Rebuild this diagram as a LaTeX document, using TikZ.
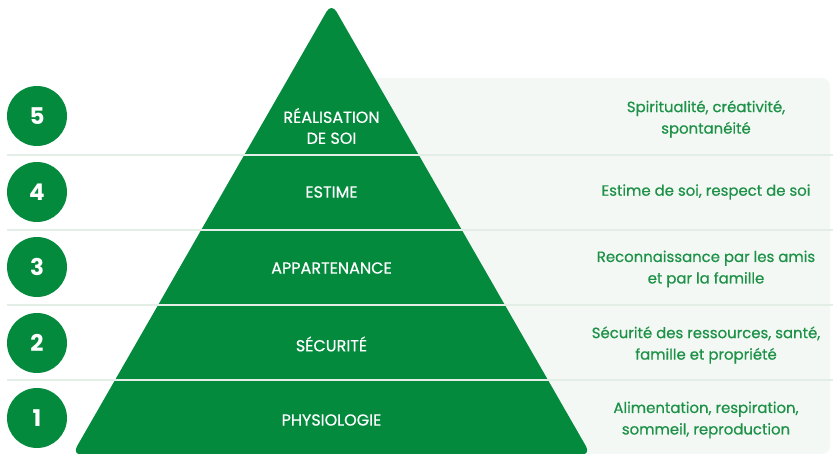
\documentclass[tikz,border=0pt]{standalone}
\usepackage{fontspec}
\setmainfont{Poppins}
\newfontfamily\medfont{Poppins}[FakeBold=0.6]
\usepackage{tikz}
\usetikzlibrary{positioning}
\definecolor{pyrgreen}{HTML}{038A3D}
\definecolor{textgreen}{HTML}{1D9247}
\definecolor{panelbg}{HTML}{F3F8F5}
\definecolor{sepline}{HTML}{E2EEE6}

\begin{document}
\begin{tikzpicture}[
    x=1pt, y=1pt,
    every node/.style={inner sep=0pt},
    levelnum/.style={circle, fill=pyrgreen, minimum size=60pt, text=white, font=\fontsize{23}{23}\selectfont\bfseries},
    levelname/.style={text=white, align=center, font=\fontsize{16}{21}\selectfont\medfont},
    need/.style={text=textgreen, align=center, font=\fontsize{14.9}{21.5}\selectfont\medfont},
    sep/.style={sepline, line width=1.5pt}
]
\useasboundingbox (0,0) rectangle (833,454);

% Fond du panneau
\fill[panelbg, rounded corners=8pt] (331,0) -- (331,376) -- (830,376) -- (830,0) [sharp corners] -- cycle;

% Pyramide
\fill[pyrgreen, rounded corners=10pt] (72,-1) -- (331.5,451) -- (591,-1) -- cycle;

% Séparateurs
\draw[sep] (7,299) -- (833,299);
\draw[sep] (7,224) -- (833,224);
\draw[sep] (7,149) -- (833,149);
\draw[sep] (7,74) -- (833,74);

% Niveaux (numéros)
\node[levelnum] (n5) at (37,338) {5};
\node[levelnum] (n4) at (37,262) {4};
\node[levelnum] (n3) at (37,187) {3};
\node[levelnum] (n2) at (37,111) {2};
\node[levelnum] (n1) at (37,36) {1};

% Noms des niveaux
\node[levelname] (real) at (331.5,328) {RÉALISATION\\DE SOI};
\node[levelname] (estime) at (331.5,262) {ESTIME};
\node[levelname] (appart) at (331.5,186) {APPARTENANCE};
\node[levelname] (secu) at (331.5,110) {SÉCURITÉ};
\node[levelname] (physio) at (331.5,34) {PHYSIOLOGIE};

% Besoins
\node[need] (b5) at (706,335) {Spiritualité, créativité,\\spontanéité};
\node[need] (b4) at (706,262) {Estime de soi, respect de soi};
\node[need] (b3) at (706,185) {Reconnaissance par les amis\\et par la famille};
\node[need] (b2) at (706,109) {Sécurité des ressources, santé,\\famille et propriété};
\node[need] (b1) at (706,34) {Alimentation, respiration,\\sommeil, reproduction};

\end{tikzpicture}
\end{document}
